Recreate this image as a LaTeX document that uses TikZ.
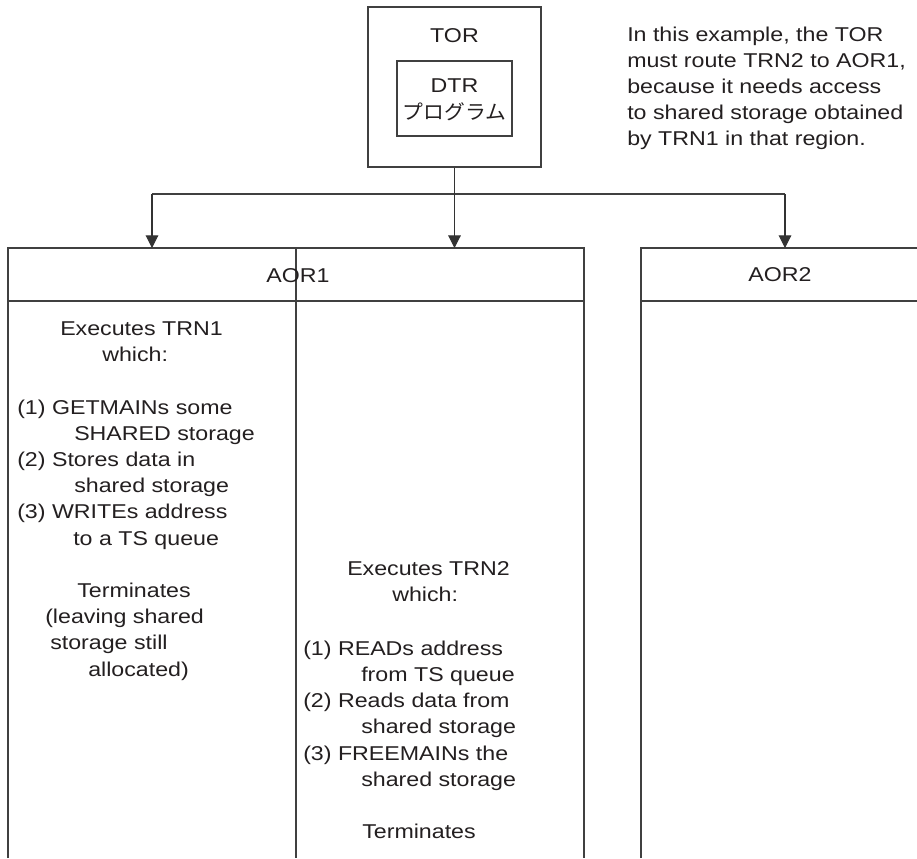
\documentclass[tikz,border=0pt]{standalone}
\usepackage{fontspec}
\setmainfont{Liberation Sans}[FakeStretch=1.16]
\newfontfamily\jpfont{Noto Sans CJK JP}[FakeStretch=1.04]
\usetikzlibrary{arrows.meta}
\definecolor{inkgray}{HTML}{231F20}
\tikzset{
  frame/.style={draw=black!75,line width=0.8pt},
  txt/.style={inner sep=0pt,font=\fontsize{15pt}{19.6pt}\selectfont,text=inkgray},
  feed/.style={draw=black!80,line width=0.8pt,-{Triangle[width=9.5pt,length=9.5pt]}}
}

\begin{document}
\begin{tikzpicture}[x=0.75pt,y=-0.75pt]
    \useasboundingbox (0,0) rectangle (917,858);

    % TOR with the DTR program inside
    \node[frame,minimum width=129.75pt,minimum height=120pt,inner sep=0pt] (tor) at (454.5,87) {};
    \node[frame,minimum width=86.25pt,minimum height=56.25pt,inner sep=0pt] (dtr) at (454.5,98.5) {};
    \node[txt,anchor=base] (torname) at (454.5,42) {TOR};
    \node[txt,anchor=base] (dtrname) at (454.5,92) {DTR};
    \node[txt,anchor=base] (dtrprog) at (454.5,119) {\jpfont プログラム};

    % Note beside the TOR
    \foreach \y/\words [count=\i] in {41/{In this example, the TOR},67/{must route TRN2 to AOR1,},93/{because it needs access},119/{to shared storage obtained},145/{by TRN1 in that region.}}{
      \node[txt,anchor=base west] (note\i) at (627,\y) {\words};
    }

    % Region frames (open at the bottom)
    \draw[frame] (8,858) -- (8,248) -- (584,248) -- (584,858);
    \draw[frame] (8,301) -- (584,301);
    \draw[frame] (296,248) -- (296,858);
    \draw[frame] (641,858) -- (641,248) -- (917,248);
    \draw[frame] (641,301) -- (917,301);
    \node[txt,anchor=base] (aor1name) at (298,282) {AOR1};
    \node[txt,anchor=base] (aor2name) at (780,281) {AOR2};

    % Routing arrows
    \coordinate (busl) at (152,194);
    \coordinate (busr) at (785,194);
    \coordinate (aor1top) at (152,248);
    \coordinate (aor1mid) at (454.5,248);
    \coordinate (aor2top) at (785,248);
    \draw[frame] (busl) -- (busr);
    \draw[feed] (tor.south) -- (aor1mid);
    \draw[feed] (busl) -- (aor1top);
    \draw[feed] (busr) -- (aor2top);

    % TRN1 column
    \foreach \x/\y/\words [count=\i] in {60/335.5/{Executes TRN1},102/361.7/{which:},17/414/{(1) GETMAINs some},74/440.2/{SHARED storage},17/466.4/{(2) Stores data in},74/492.6/{shared storage},17/518.8/{(3) WRITEs address},73/545/{to a TS queue},77/597.4/{Terminates},45/623.6/{(leaving shared},50/649.8/{storage still},88/676/{allocated)}}{
      \node[txt,anchor=base west] (trnone\i) at (\x,\y) {\words};
    }

    % TRN2 column
    \foreach \x/\y/\words [count=\i] in {347/575/{Executes TRN2},392/601/{which:},303/655/{(1) READs address},361/681/{from TS queue},303/707/{(2) Reads data from},361/733/{shared storage},303/760/{(3) FREEMAINs the},361/786/{shared storage},362/838/{Terminates}}{
      \node[txt,anchor=base west] (trntwo\i) at (\x,\y) {\words};
    }
\end{tikzpicture}
\end{document}
